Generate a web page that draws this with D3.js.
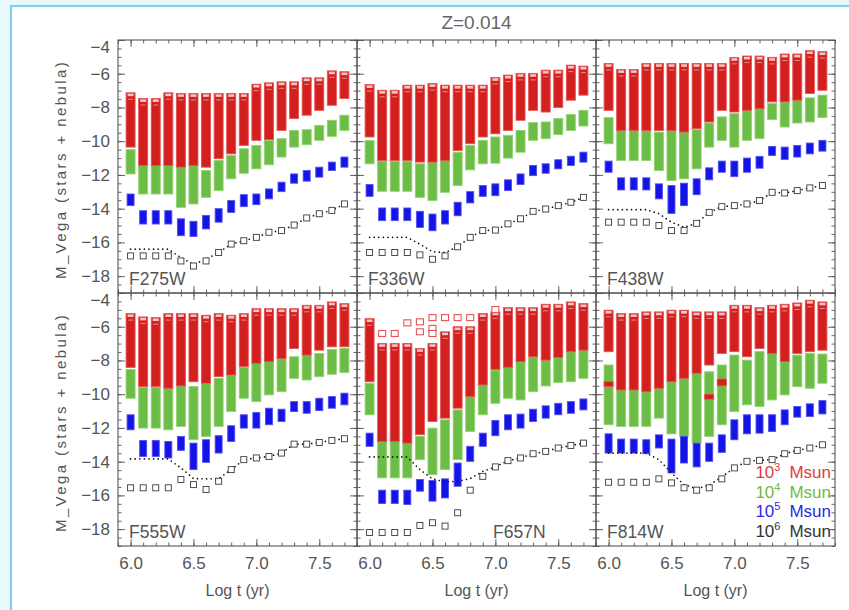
<!DOCTYPE html>
<html><head><meta charset="utf-8">
<script src="https://cdn.jsdelivr.net/npm/d3@7"></script>
<style>
body{margin:0;background:#e9f9fc;}
svg{display:block;font-family:"Liberation Sans",Arial,sans-serif;}
</style>
</head><body><svg id="chart" width="849" height="610"></svg>
<script>
// ---------------- DATA ----------------
const title = "Z=0.014";
const logT = [6.0,6.1,6.2,6.3,6.4,6.5,6.6,6.7,6.8,6.9,7.0,7.1,7.2,7.3,7.4,7.5,7.6,7.7];
const filters = ["F275W","F336W","F438W","F555W","F657N","F814W"];
const xTickValues = [6.0,6.5,7.0,7.5];
const yTickValues = [-4,-6,-8,-10,-12,-14,-16,-18];
const xLabel = "Log t (yr)";
const yLabel = "M_Vega (stars + nebula)";
const massExp = ["3","4","5","6"];
const massNames = ["Msun","Msun","Msun","Msun"];

// [top, bottom] magnitude ranges of the realisations, per log t
const F275W_red   = [[-7.13,-10.35],[-7.47,-11.44],[-7.47,-11.44],[-7.13,-11.44],[-7.17,-11.54],[-7.17,-11.44],[-7.17,-11.54],[-7.17,-11.04],[-7.17,-10.75],[-7.17,-10.25],[-6.62,-9.95],[-6.54,-9.9],[-6.48,-9.36],[-6.48,-8.66],[-6.24,-8.46],[-6.24,-8.17],[-5.83,-7.87],[-5.88,-7.47]];
const F275W_green = [[-10.5,-11.94],[-11.44,-13.13],[-11.44,-13.13],[-11.44,-13.13],[-11.54,-13.92],[-11.44,-13.72],[-11.74,-13.33],[-11.14,-12.93],[-10.85,-12.23],[-10.45,-11.9],[-10.25,-11.64],[-9.95,-11.4],[-9.85,-10.94],[-9.36,-10.35],[-9.32,-10.21],[-9.06,-9.95],[-8.76,-9.71],[-8.46,-9.36]];
const F275W_blue  = [[-13.13,-13.82],[-14.12,-14.91],[-14.12,-14.91],[-14.12,-14.91],[-14.6,-15.6],[-14.75,-15.65],[-14.4,-15.2],[-14.0,-14.8],[-13.52,-14.22],[-13.17,-13.88],[-13.13,-13.76],[-12.83,-13.42],[-12.43,-12.99],[-11.94,-12.49],[-11.74,-12.37],[-11.54,-12.13],[-11.24,-11.74],[-10.94,-11.54]];
const F275W_black = [-16.8,-16.8,-16.8,-16.8,-17.1,-17.4,-17.1,-16.6,-16.1,-15.9,-15.7,-15.4,-15.3,-14.97,-14.55,-14.3,-14.1,-13.72];
const F275W_dot   = [-16.4,-16.4,-16.4,-16.4,-16.9,-17.3,-17.0,-16.6,-16.1,-15.9,-15.7,-15.4,-15.3,-14.97,-14.55,-14.3,-14.1,-13.72];

const F336W_red   = [[-6.64,-9.75],[-6.98,-11.14],[-6.98,-11.14],[-6.68,-11.14],[-6.68,-11.24],[-6.58,-11.24],[-6.68,-11.14],[-6.68,-10.55],[-6.68,-10.15],[-6.68,-9.75],[-6.22,-9.56],[-6.08,-9.36],[-5.98,-8.76],[-5.98,-8.17],[-5.79,-8.27],[-5.79,-8.0],[-5.49,-7.57],[-5.55,-7.27]];
const F336W_green = [[-9.95,-11.34],[-11.18,-12.97],[-11.18,-12.97],[-11.18,-12.97],[-11.34,-13.33],[-11.24,-13.52],[-11.14,-13.03],[-10.65,-12.63],[-10.25,-11.7],[-9.95,-11.34],[-9.75,-11.3],[-9.65,-11.0],[-9.36,-10.65],[-8.9,-9.95],[-8.86,-9.85],[-8.66,-9.61],[-8.42,-9.36],[-8.17,-9.1]];
const F336W_blue  = [[-12.57,-13.27],[-13.96,-14.71],[-13.96,-14.71],[-13.96,-14.71],[-14.16,-15.11],[-14.32,-15.31],[-14.12,-14.91],[-13.62,-14.42],[-12.99,-13.66],[-12.63,-13.27],[-12.53,-13.23],[-12.29,-12.93],[-11.94,-12.57],[-11.44,-12.04],[-11.34,-11.9],[-11.1,-11.64],[-10.89,-11.44],[-10.65,-11.24]];
const F336W_black = [-16.6,-16.6,-16.6,-16.6,-16.74,-17.0,-16.8,-16.26,-15.7,-15.3,-15.27,-14.9,-14.6,-14.16,-14.02,-13.82,-13.62,-13.33];
const F336W_dot   = [-15.7,-15.7,-15.7,-15.7,-16.1,-16.55,-16.6,-16.26,-15.7,-15.3,-15.27,-14.9,-14.6,-14.16,-14.02,-13.82,-13.62,-13.33];

const F438W_red   = [[-5.39,-8.17],[-5.75,-9.36],[-5.75,-9.36],[-5.39,-9.36],[-5.39,-9.36],[-5.39,-9.36],[-5.39,-9.46],[-5.39,-9.26],[-5.39,-8.86],[-5.39,-8.17],[-5.03,-8.27],[-4.95,-8.17],[-4.95,-8.07],[-5.03,-7.67],[-4.83,-7.67],[-4.83,-7.57],[-4.63,-7.17],[-4.69,-6.98]];
const F438W_green = [[-8.6,-10.15],[-9.36,-11.14],[-9.36,-11.14],[-9.36,-11.14],[-9.46,-11.74],[-9.36,-12.33],[-9.46,-12.23],[-9.32,-11.64],[-8.92,-10.35],[-8.56,-9.95],[-8.37,-10.35],[-8.17,-9.95],[-8.07,-9.85],[-7.77,-8.72],[-7.67,-9.16],[-7.57,-8.92],[-7.43,-8.86],[-7.27,-8.6]];
const F438W_blue  = [[-11.18,-11.84],[-12.17,-12.89],[-12.17,-12.89],[-12.17,-12.89],[-12.53,-13.42],[-12.63,-14.28],[-12.49,-13.82],[-12.23,-13.17],[-11.58,-12.29],[-11.18,-11.84],[-11.18,-12.1],[-11.0,-11.84],[-10.9,-11.6],[-10.31,-10.85],[-10.35,-11.08],[-10.25,-10.94],[-10.11,-10.75],[-9.95,-10.59]];
const F438W_black = [-14.8,-14.8,-14.8,-14.8,-15.0,-15.3,-15.3,-14.87,-14.22,-13.88,-13.82,-13.72,-13.52,-13.03,-13.07,-12.93,-12.77,-12.63];
const F438W_dot   = [-14.06,-14.06,-14.06,-14.06,-14.3,-14.8,-15.1,-14.87,-14.22,-13.88,-13.82,-13.72,-13.52,-13.03,-13.07,-12.93,-12.77,-12.63];

const F555W_red   = [[-5.22,-8.41],[-5.42,-9.55],[-5.46,-9.55],[-5.22,-9.65],[-5.22,-9.51],[-5.22,-9.26],[-5.32,-9.35],[-5.22,-8.96],[-5.32,-8.86],[-5.22,-8.37],[-4.93,-8.17],[-4.93,-8.07],[-4.93,-7.88],[-4.93,-7.29],[-4.73,-7.68],[-4.73,-7.39],[-4.53,-7.19],[-4.63,-7.19]];
const F555W_green = [[-8.53,-10.24],[-9.59,-12.01],[-9.59,-12.01],[-9.65,-12.11],[-9.51,-11.91],[-9.55,-12.7],[-9.35,-12.5],[-9.06,-11.91],[-8.86,-11.03],[-8.41,-10.24],[-8.17,-10.44],[-8.07,-10.04],[-7.88,-9.85],[-7.78,-9.06],[-7.68,-9.16],[-7.58,-8.96],[-7.35,-8.82],[-7.29,-8.72]];
const F555W_blue  = [[-11.22,-12.11],[-12.74,-13.69],[-12.74,-13.69],[-12.8,-13.78],[-12.5,-13.33],[-12.9,-14.47],[-12.7,-14.04],[-12.46,-13.49],[-11.87,-12.8],[-11.22,-12.01],[-11.09,-12.01],[-10.83,-11.81],[-10.89,-11.62],[-10.44,-11.03],[-10.44,-11.13],[-10.24,-10.97],[-10.14,-10.83],[-9.94,-10.63]];
const F555W_black = [-15.55,-15.55,-15.55,-15.55,-15.06,-15.36,-15.65,-15.16,-14.47,-13.88,-13.78,-13.69,-13.49,-12.96,-12.96,-12.86,-12.74,-12.64];
const F555W_dot   = [-13.84,-13.84,-13.84,-13.84,-14.37,-15.0,-15.02,-15.0,-14.47,-13.88,-13.78,-13.69,-13.49,-12.96,-12.96,-12.86,-12.74,-12.64];

const F657N_red   = [[-5.52,-9.26],[-6.99,-12.8],[-6.99,-12.8],[-6.99,-12.9],[-7.29,-12.4],[-6.99,-11.62],[-6.3,-11.42],[-6.0,-10.83],[-6.0,-10.14],[-5.22,-9.45],[-5.12,-8.53],[-4.87,-8.41],[-4.87,-8.07],[-4.87,-7.78],[-4.67,-7.98],[-4.67,-7.82],[-4.53,-7.48],[-4.63,-7.39]];
const F657N_green = [[-9.35,-11.22],[-12.8,-14.96],[-12.8,-14.96],[-12.9,-14.96],[-12.5,-13.88],[-12.01,-14.77],[-11.52,-14.47],[-10.93,-13.88],[-10.14,-12.21],[-9.45,-11.22],[-8.57,-10.54],[-8.41,-10.24],[-8.07,-10.34],[-7.78,-9.85],[-7.98,-9.51],[-7.82,-9.31],[-7.48,-9.26],[-7.39,-9.06]];
const F657N_blue  = [[-12.31,-13.09],[-15.69,-16.48],[-15.69,-16.48],[-15.69,-16.54],[-15.06,-15.75],[-15.12,-16.34],[-15.02,-16.15],[-14.08,-15.46],[-13.09,-13.98],[-12.31,-13.09],[-11.56,-12.46],[-11.22,-12.11],[-11.18,-12.01],[-10.89,-11.62],[-10.69,-11.42],[-10.54,-11.22],[-10.44,-11.13],[-10.28,-10.93]];
const F657N_black = [-18.2,-18.2,-18.2,-18.2,-17.78,-17.62,-17.82,-17.03,-15.69,-14.87,-14.31,-13.94,-13.78,-13.53,-13.39,-13.19,-13.04,-12.9];
const F657N_dot   = [-13.72,-13.72,-13.72,-13.72,-14.47,-15.02,-15.2,-15.16,-15.0,-14.57,-14.31,-13.94,-13.78,-13.53,-13.39,-13.19,-13.04,-12.9];
// isolated 10^3 Msun realisations above the F657N bars: [log t, mag]
const F657N_redOutliers = [[6.1,-6.4],[6.2,-6.4],[6.3,-5.77],[6.4,-5.71],[6.4,-6.3],[6.5,-5.46],[6.5,-6.1],[6.5,-6.4],[6.6,-5.46],[6.7,-5.46],[6.8,-5.46],[7.0,-4.98]];

const F814W_red   = [[-5.02,-7.48],[-5.22,-9.75],[-5.22,-9.75],[-5.12,-9.85],[-5.12,-9.65],[-5.02,-9.26],[-5.02,-9.06],[-5.12,-8.76],[-5.12,-8.27],[-5.12,-7.58],[-4.73,-7.48],[-4.73,-7.78],[-4.87,-7.29],[-4.73,-7.58],[-4.67,-8.07],[-4.59,-7.58],[-4.43,-7.48],[-4.53,-7.39]];
const F814W_green = [[-8.27,-11.81],[-9.75,-11.91],[-9.75,-11.91],[-9.85,-11.91],[-9.65,-11.42],[-9.26,-12.35],[-9.06,-12.5],[-8.76,-12.9],[-8.67,-12.5],[-8.27,-11.81],[-7.68,-11.03],[-7.98,-10.63],[-7.48,-10.73],[-7.58,-10.34],[-8.07,-10.04],[-7.68,-9.55],[-7.58,-9.65],[-7.62,-9.35]];
const F814W_blue  = [[-12.35,-13.49],[-12.66,-13.49],[-12.66,-13.49],[-12.7,-13.53],[-12.41,-13.19],[-12.66,-14.67],[-12.5,-14.08],[-12.9,-14.31],[-12.9,-13.98],[-12.41,-13.45],[-11.52,-12.7],[-11.22,-12.35],[-11.22,-12.31],[-11.22,-12.21],[-10.93,-11.81],[-10.73,-11.36],[-10.57,-11.32],[-10.38,-11.17]];
const F814W_black = [-15.22,-15.22,-15.22,-15.22,-15.02,-15.26,-15.55,-15.69,-15.55,-15.02,-14.37,-13.98,-13.92,-13.88,-13.53,-13.33,-13.19,-13.0];
const F814W_dot   = [-13.49,-13.49,-13.49,-13.49,-13.88,-14.67,-15.36,-15.6,-15.4,-14.9,-14.37,-13.98,-13.92,-13.88,-13.53,-13.33,-13.19,-13.0];
// 10^3 Msun patches visible inside the green F814W bars: [log t, top, bottom]
const F814W_redPatches = [[6.0,-9.25,-9.55],[6.8,-10.0,-10.3],[6.9,-9.1,-9.5]];

// ---------------- STYLE ----------------
const COL = {red:"#d41f1f", redEdge:"#e65454", green:"#6cbd45", greenEdge:"#93d373",
             blue:"#1414e6", blueEdge:"#5050f2", black:"#3a3a3a", text:"#555", axis:"#555"};
const legendCols = ["#e23b3b","#6cbd45","#2a2ae6","#333"];

const panels = [
  {name:"F275W", red:F275W_red, green:F275W_green, blue:F275W_blue, black:F275W_black, dot:F275W_dot},
  {name:"F336W", red:F336W_red, green:F336W_green, blue:F336W_blue, black:F336W_black, dot:F336W_dot},
  {name:"F438W", red:F438W_red, green:F438W_green, blue:F438W_blue, black:F438W_black, dot:F438W_dot},
  {name:"F555W", red:F555W_red, green:F555W_green, blue:F555W_blue, black:F555W_black, dot:F555W_dot},
  {name:"F657N", red:F657N_red, green:F657N_green, blue:F657N_blue, black:F657N_black, dot:F657N_dot, outliers:F657N_redOutliers, labelRight:true},
  {name:"F814W", red:F814W_red, green:F814W_green, blue:F814W_blue, black:F814W_black, dot:F814W_dot, patches:F814W_redPatches, legend:true}
];

const svg = d3.select("#chart");
// frame
svg.append("rect").attr("x",0).attr("y",0).attr("width",849).attr("height",610).attr("fill","#e9f9fc");
svg.append("rect").attr("x",11).attr("y",6).attr("width",860).attr("height",640)
   .attr("fill","#fff").attr("stroke","#86cdf0").attr("stroke-width",2.2);

const L = 118, T = 40, W = 239, H = 253;

svg.append("text").attr("x", L + 1.5*W).attr("y", 29).attr("text-anchor","middle")
   .attr("font-size",19).attr("fill","#666").text(title);

const fmtY = d => (d < 0 ? "\u2212" : "") + Math.abs(d);
const fmtX = d3.format(".1f");

panels.forEach((p, i) => {
  const col = i % 3, row = Math.floor(i / 3);
  const x0 = L + col * W, y0 = T + row * H;
  const x = d3.scaleLinear().domain([5.9, 7.8]).range([x0, x0 + W]);
  const y = d3.scaleLinear().domain([-4, -19]).range([y0, y0 + H]);
  const g = svg.append("g");
  const clipId = "clip" + i;
  svg.append("clipPath").attr("id", clipId).append("rect")
     .attr("x", x0).attr("y", y0).attr("width", W).attr("height", H);
  const marks = g.append("g").attr("clip-path", `url(#${clipId})`);

  // green bars (drawn first, red overlays)
  marks.selectAll(".g").data(p.green).join("rect")
    .attr("x", (d, j) => x(logT[j]) - 4.5).attr("width", 9)
    .attr("y", d => y(d[0])).attr("height", d => y(d[1]) - y(d[0]))
    .attr("fill", COL.green).attr("stroke", COL.greenEdge).attr("stroke-width", 0.9);
  // red bars
  marks.selectAll(".r").data(p.red).join("rect")
    .attr("x", (d, j) => x(logT[j]) - 4.5).attr("width", 9)
    .attr("y", d => y(d[0])).attr("height", d => y(d[1]) - y(d[0]))
    .attr("fill", COL.red).attr("stroke", COL.redEdge).attr("stroke-width", 0.9);
  // open-square realisations at top of red bars
  marks.selectAll(".rc").data(p.red).join("rect")
    .attr("x", (d, j) => x(logT[j]) - 3).attr("width", 6)
    .attr("y", d => y(d[0]) + 0.8).attr("height", 2.6)
    .attr("fill", "#f4c4c4").attr("stroke", "none");
  marks.selectAll(".rl").data(p.red).join("line")
    .attr("x1", (d, j) => x(logT[j]) - 2.5).attr("x2", (d, j) => x(logT[j]) + 2.5)
    .attr("y1", d => y(d[0]) + 6.5).attr("y2", d => y(d[0]) + 6.5)
    .attr("stroke", "#f0a8a8").attr("stroke-width", 0.8);
  if (p.patches) {
    marks.selectAll(".rp").data(p.patches).join("rect")
      .attr("x", d => x(d[0]) - 4.5).attr("width", 9)
      .attr("y", d => y(d[1])).attr("height", d => y(d[2]) - y(d[1]))
      .attr("fill", COL.red).attr("stroke", COL.redEdge).attr("stroke-width", 0.8);
  }
  if (p.outliers) {
    marks.selectAll(".ro").data(p.outliers).join("rect")
      .attr("x", d => x(d[0]) - 3.5).attr("width", 7)
      .attr("y", d => y(d[1]) - 3).attr("height", 6)
      .attr("fill", "#fff").attr("stroke", COL.redEdge).attr("stroke-width", 1.1);
  }
  // blue bars
  marks.selectAll(".b").data(p.blue).join("rect")
    .attr("x", (d, j) => x(logT[j]) - 3.5).attr("width", 7)
    .attr("y", d => y(d[0])).attr("height", d => y(d[1]) - y(d[0]))
    .attr("fill", COL.blue).attr("stroke", COL.blueEdge).attr("stroke-width", 0.9);
  // dotted line
  marks.append("path").datum(p.dot)
    .attr("d", d3.line().x((d, j) => x(logT[j])).y(d => y(d)))
    .attr("fill", "none").attr("stroke", "#111").attr("stroke-width", 1.7)
    .attr("stroke-linecap", "round").attr("stroke-dasharray", "0,4.6");
  // black open squares
  marks.selectAll(".k").data(p.black).join("rect")
    .attr("x", (d, j) => x(logT[j]) - 3).attr("width", 6)
    .attr("y", d => y(d) - 3).attr("height", 6)
    .attr("fill", "#fff").attr("stroke", COL.black).attr("stroke-width", 0.9);

  // axes (ticks inward on all sides)
  const axes = g.append("g").attr("color", COL.axis);
  const mk = (axisFn, scale, vals, size, tr, fmt, pad) => {
    const a = axisFn(scale).tickValues(vals).tickSize(size).tickPadding(pad || 3)
      .tickFormat(fmt || (() => ""));
    const s = axes.append("g").attr("transform", tr).call(a);
    s.select(".domain").remove();
    s.selectAll("line").attr("stroke-width", 0.9);
    return s;
  };
  const xMinor = x.ticks(19), yMinor = y.ticks(30);
  mk(d3.axisBottom, x, xMinor, -3.5, `translate(0,${y0 + H})`);
  mk(d3.axisTop, x, xMinor, -3.5, `translate(0,${y0})`);
  mk(d3.axisLeft, y, yMinor, -3.5, `translate(${x0},0)`);
  mk(d3.axisRight, y, yMinor, -3.5, `translate(${x0 + W},0)`);
  const bx = mk(d3.axisBottom, x, xTickValues, -7, `translate(0,${y0 + H})`, row === 1 ? fmtX : null, 11);
  mk(d3.axisTop, x, xTickValues, -7, `translate(0,${y0})`);
  const ly = mk(d3.axisLeft, y, yTickValues, -7, `translate(${x0},0)`, col === 0 ? fmtY : null, 8);
  mk(d3.axisRight, y, yTickValues, -7, `translate(${x0 + W},0)`);
  bx.selectAll("text").attr("font-size", 17).attr("fill", COL.text).attr("font-family", "Liberation Sans, Arial, sans-serif");
  ly.selectAll("text").attr("font-size", 17).attr("fill", COL.text).attr("font-family", "Liberation Sans, Arial, sans-serif")
    .attr("transform", d => d === -4 ? "translate(0,7)" : null);

  g.append("rect").attr("x", x0).attr("y", y0).attr("width", W).attr("height", H)
    .attr("fill", "none").attr("stroke", COL.axis).attr("stroke-width", 1.1);

  // filter label
  g.append("text").attr("x", p.labelRight ? x0 + 136 : x0 + 11).attr("y", y0 + H - 8)
    .attr("font-size", 17.5).attr("fill", COL.text).text(p.name);

  if (row === 1) {
    g.append("text").attr("x", x0 + W / 2).attr("y", 596).attr("text-anchor", "middle")
      .attr("font-size", 16).attr("fill", COL.text).text(xLabel);
  }
  if (col === 0) {
    g.append("text").attr("transform", `translate(66,${y0 + H / 2 + 3}) rotate(-90)`)
      .attr("text-anchor", "middle").attr("font-size", 15).attr("letter-spacing", 2.4)
      .attr("fill", COL.text).text(yLabel);
  }
  if (p.legend) {
    const lg = g.append("g");
    massExp.forEach((e, k) => {
      const yy = 478 + k * 19.7;
      const t = lg.append("text").attr("x", x0 + W - 4).attr("y", yy).attr("text-anchor", "end")
        .attr("font-size", 17).attr("fill", legendCols[k]);
      t.append("tspan").text("10");
      t.append("tspan").attr("font-size", 11).attr("dy", -7).text(e);
      t.append("tspan").attr("dy", 7).attr("dx", 9).text(massNames[k]);
    });
  }
});
</script>
</body></html>
